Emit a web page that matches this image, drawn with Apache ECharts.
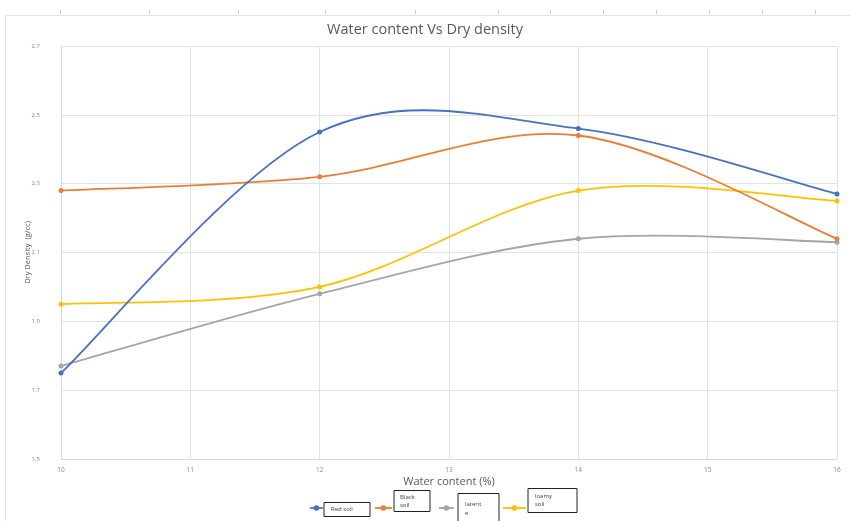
<!DOCTYPE html>
<html>
<head>
<meta charset="utf-8">
<script src="https://cdn.jsdelivr.net/npm/echarts@6/dist/echarts.min.js"></script>
<style>
  html, body { margin: 0; padding: 0; background: #ffffff; }
  #chart { width: 850px; height: 521px; }
</style>
</head>
<body>
<div id="chart"></div>
<script>
// ---- data ----
const waterContent = [10, 12, 14, 16];
const redSoil   = [1.75, 2.45, 2.46, 2.27];
const blackSoil = [2.28, 2.32, 2.44, 2.14];
const laterite  = [1.77, 1.98, 2.14, 2.13];
const loamySoil = [1.95, 2.00, 2.28, 2.25];
const seriesNames = ['Red soil', 'Black soil', 'laterite', 'loamy soil'];
const legendLabels = ['Red soil', 'Black\nsoil', 'laterit\ne', 'loamy\nsoil'];
const xTicks = [10, 11, 12, 13, 14, 15, 16];
const yTicks = [1.5, 1.7, 1.9, 2.1, 2.3, 2.5, 2.7];

const colors = ['#4472C4', '#ED7D31', '#A5A5A5', '#FFC000'];
const allValues = [redSoil, blackSoil, laterite, loamySoil];
const FONT = '"Open Sans", Lato, sans-serif';

// y axis is drawn with an offset so that ticks start exactly at the first label
const yBase = yTicks[0];
const yStep = +(yTicks[1] - yTicks[0]).toFixed(4);
const toPairs = vals => waterContent.map((x, i) => [x, +(vals[i] - yBase).toFixed(4)]);

// markers + legend icons (line itself hidden, drawn by the curve series below)
const markerSeries = seriesNames.map((name, k) => ({
  name: name,
  type: 'line',
  data: toPairs(allValues[k]),
  symbol: 'circle',
  symbolSize: 5,
  showSymbol: true,
  lineStyle: { width: 1.8, color: colors[k], opacity: 0 },
  itemStyle: { color: colors[k] },
  z: 10 - k
}));

// smooth curves in the spreadsheet style (Catmull-Rom through the data points,
// computed in pixel space from the library's own coordinate mapping)
const curveSeries = seriesNames.map((name, k) => ({
  name: name + ' curve',
  type: 'custom',
  coordinateSystem: 'cartesian2d',
  data: toPairs(allValues[k]),
  encode: { x: 0, y: 1 },
  z: 5 - k,
  silent: true,
  renderItem: (params, api) => {
    if (params.dataIndex !== 0) return null;
    const pts = toPairs(allValues[k]).map(p => api.coord(p));
    const children = [];
    for (let i = 0; i < pts.length - 1; i++) {
      const p0 = pts[Math.max(i - 1, 0)];
      const p1 = pts[i];
      const p2 = pts[i + 1];
      const p3 = pts[Math.min(i + 2, pts.length - 1)];
      children.push({
        type: 'bezierCurve',
        shape: {
          x1: p1[0], y1: p1[1],
          cpx1: p1[0] + (p2[0] - p0[0]) / 6, cpy1: p1[1] + (p2[1] - p0[1]) / 6,
          cpx2: p2[0] - (p3[0] - p1[0]) / 6, cpy2: p2[1] - (p3[1] - p1[1]) / 6,
          x2: p2[0], y2: p2[1]
        },
        style: { stroke: colors[k], lineWidth: 1.8, fill: null, lineCap: 'round' }
      });
    }
    return { type: 'group', children: children };
  }
}));

// legend icon positions and text boxes
const iconLeft = [309, 374, 438, 502];
const iconWidth = [13, 17, 15, 23];
const boxLeft = [323, 393, 457, 527];
const boxTop = [502, 490, 493, 488];
const boxTextWidth = [34, 26, 30, 38];
const boxPad = [[4, 5, 3, 7], [3, 4, 2, 6], [4, 4, 8, 7], [4, 4, 4, 7]];
const boxLine = [7, 8, 9, 8];

const legends = [];
seriesNames.forEach((name, k) => {
  legends.push({
    data: [name],
    left: iconLeft[k],
    top: 508 - 3.5,
    padding: 0,
    itemWidth: iconWidth[k],
    itemHeight: 7,
    selectedMode: false,
    lineStyle: { opacity: 1, width: 1.8, color: colors[k] },
    formatter: () => '',
    textStyle: { fontSize: 1 }
  });
  legends.push({
    data: [name],
    left: boxLeft[k] - 5,
    top: boxTop[k],
    padding: 0,
    itemWidth: 0,
    itemHeight: 0,
    selectedMode: false,
    itemStyle: { opacity: 0 },
    lineStyle: { opacity: 0 },
    formatter: () => legendLabels[k],
    textStyle: {
      fontFamily: FONT,
      fontSize: 6,
      lineHeight: boxLine[k],
      color: '#404040',
      width: boxTextWidth[k],
      borderColor: '#222',
      borderWidth: 1,
      padding: boxPad[k],
      align: 'left'
    }
  });
});

// faint spreadsheet frame and top ruler ticks
const rulerX = [60, 149, 238, 325, 415, 498, 550, 603, 656, 709, 762, 815];
const graphics = [
  { type: 'rect', shape: { x: 5.5, y: 15.5, width: 860, height: 520 },
    style: { fill: 'none', stroke: '#e3e3e3', lineWidth: 1 }, silent: true }
].concat(rulerX.map(x => ({
  type: 'line', shape: { x1: x + 0.5, y1: 10, x2: x + 0.5, y2: 14 },
  style: { stroke: '#cfcfcf', lineWidth: 1 }, silent: true
})));

const chart = echarts.init(document.getElementById('chart'));
chart.setOption({
  backgroundColor: '#ffffff',
  animation: false,
  color: colors,
  title: {
    text: 'Water content Vs Dry density',
    left: 'center',
    top: 17,
    textStyle: {
      fontFamily: FONT,
      fontSize: 14.5,
      fontWeight: 'normal',
      color: '#595959'
    }
  },
  graphic: graphics,
  legend: legends,
  grid: { left: 61, right: 13, top: 46, bottom: 62, containLabel: false },
  xAxis: {
    type: 'value',
    min: xTicks[0],
    max: xTicks[xTicks.length - 1],
    interval: xTicks[1] - xTicks[0],
    name: 'Water content (%)',
    nameLocation: 'middle',
    nameGap: 17,
    nameMoveOverlap: false,
    nameTextStyle: { fontFamily: FONT, fontSize: 11, color: '#595959' },
    axisLine: { show: true, lineStyle: { color: '#d9d9d9', width: 1 } },
    axisTick: { show: false },
    axisLabel: { fontFamily: FONT, fontSize: 6.5, color: '#8c8c8c', margin: 8 },
    splitLine: { show: true, lineStyle: { color: '#e3e3e3', width: 1 } }
  },
  yAxis: {
    type: 'value',
    min: 0,
    max: +(yTicks[yTicks.length - 1] - yBase).toFixed(4),
    interval: yStep,
    name: 'Dry Density  (g/cc)',
    nameLocation: 'middle',
    nameGap: 29,
    nameMoveOverlap: false,
    nameTextStyle: { fontFamily: FONT, fontSize: 7.5, color: '#595959' },
    axisLine: { show: true, lineStyle: { color: '#d9d9d9', width: 1 } },
    axisTick: { show: false },
    axisLabel: {
      fontFamily: FONT, fontSize: 6, color: '#8c8c8c', margin: 21,
      formatter: v => (v + yBase).toFixed(1)
    },
    splitLine: { show: true, lineStyle: { color: '#e3e3e3', width: 1 } }
  },
  series: markerSeries.concat(curveSeries)
});
</script>
</body>
</html>
